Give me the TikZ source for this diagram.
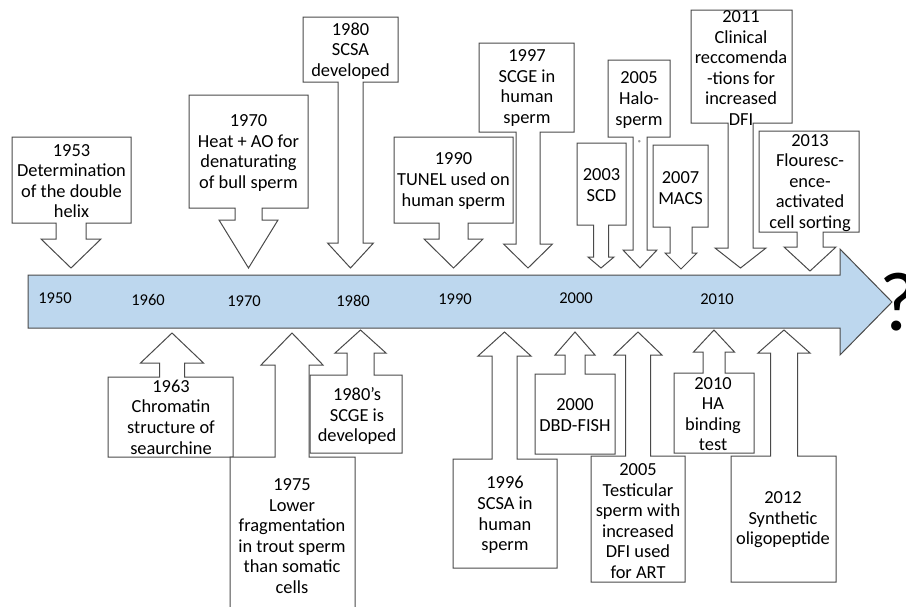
\documentclass[tikz,border=0pt]{standalone}
\usepackage{fontspec}
\setmainfont{Carlito}
\definecolor{arrowfill}{HTML}{BDD7EE}
\definecolor{lineclr}{HTML}{4A4A4A}
\tikzset{
  cstyle/.style={draw=lineclr, line width=1pt, fill=white, line join=miter},
  mainarrow/.style={draw=lineclr, line width=1pt, fill=arrowfill},
  txt/.style={align=center, inner sep=0pt, font=\fontsize{18.4}{20.6}\selectfont},
  yr/.style={inner sep=0pt, font=\fontsize{16.5}{18}\selectfont}
}
% x1,x2,yfar,ynear,tx,stemhalf,headhalf,heady,tipy
\newcommand\callout[9]{%
  \draw[cstyle] (#1,#3) -- (#2,#3) -- (#2,#4) -- ({#5+#6},#4) -- ({#5+#6},#8) -- ({#5+#7},#8) -- (#5,#9) -- ({#5-#7},#8) -- ({#5-#6},#8) -- ({#5-#6},#4) -- (#1,#4) -- cycle;}
\begin{document}
\begin{tikzpicture}[x=1pt,y=-1pt]
\useasboundingbox (0,0) rectangle (906,606);
\clip (0,0) rectangle (906,606);
% main timeline arrow
\draw[mainarrow] (28,275) -- (840,275) -- (840,249) -- (892,302) -- (840,355) -- (840,328) -- (28,328) -- cycle;
\node[yr] (y1950) at (55,298) {1950};
\node[yr] (y1960) at (148,300) {1960};
\node[yr] (y1970) at (244,301) {1970};
\node[yr] (y1980) at (353,301) {1980};
\node[yr] (y1990) at (455,299) {1990};
\node[yr] (y2000) at (576,298) {2000};
\node[yr] (y2010) at (717,299) {2010};
\node[inner sep=0pt, anchor=base west, font=\fontsize{84}{84}\selectfont] (q) at (879,330) {?};
% top callouts
\callout{12}{131}{137}{223}{71}{15}{30}{239}{268}
\node[txt] (c1953) at (71.5,181) {1953\\Determination\\of the double\\helix};
\callout{189}{308}{95}{208}{248.5}{13.5}{29.5}{220}{268}
\node[txt] (c1970) at (248.5,153) {1970\\Heat + AO for\\denaturating\\of bull sperm};
\callout{303}{398}{17}{82}{350.5}{12.5}{23}{243}{268}
\node[txt] (c1980) at (350.5,51) {1980\\SCSA\\developed};
\callout{394}{513}{137}{223}{453.5}{14.5}{29.5}{239}{268}
\node[txt] (c1990) at (453.5,181) {1990\\TUNEL used on\\human sperm};
\callout{479}{574}{43}{132}{528}{12}{24.5}{244}{268}
\node[txt] (c1997) at (527,88) {1997\\SCGE in\\human\\sperm};
\callout{577}{626}{143}{225}{601}{7.5}{13}{257}{268}
\node[txt] (c2003) at (601.5,185) {2003\\SCD};
\callout{608}{670}{60}{137}{640}{7}{17}{250}{268}
\node[txt] (c2005h) at (639,100) {2005\\Halo-\\sperm};
\node[inner sep=0pt, font=\fontsize{7}{8}\selectfont] (reg) at (640,143) {®};
\callout{653}{708}{145}{227}{681}{11}{16}{253}{269}
\node[txt] (c2007) at (680.5,188) {2007\\MACS};
\callout{691}{792}{10}{123}{740.5}{12.5}{25.5}{248}{268}
\node[txt] (c2011) at (741,68) {2011\\Clinical\\reccomenda\\-tions for\\increased\\DFI};
\callout{759}{859}{131}{232}{810}{13}{26}{247}{271}
\node[txt] (c2013) at (810,183) {2013\\Flouresc-\\ence-\\activated\\cell sorting};
% bottom callouts
\callout{108}{233}{457}{377}{172}{12.5}{31.5}{363}{333}
\node[txt] (c1963) at (171,417) {1963\\Chromatin\\structure of\\seaurchine};
\callout{230}{355}{640}{457}{292}{17}{31}{365}{333}
\node[txt] (c1975) at (292,536) {1975\\Lower\\fragmentation\\in trout sperm\\than somatic\\cells};
\callout{310}{402}{453}{375}{360.5}{13.5}{25.5}{353}{330}
\node[txt] (c1980s) at (357,416) {1980’s\\SCGE is\\developed};
\callout{453}{557}{568}{459}{504.5}{12.5}{26.5}{356}{332}
\node[txt] (c1996) at (505,515) {1996\\SCSA in\\human\\sperm};
\callout{535}{615}{454}{374}{575}{10}{20}{355}{332}
\node[txt] (c2000) at (575,415) {2000\\DBD-FISH};
\callout{591}{685}{582}{456}{638}{12.5}{24}{355}{332}
\node[txt] (c2005t) at (638,521) {2005\\Testicular\\sperm with\\increased\\DFI used\\for ART};
\callout{674}{754}{453}{373}{714}{11}{20.5}{352}{330}
\node[txt] (c2010) at (713,414) {2010\\HA\\binding\\test};
\callout{731}{836}{582}{456}{784}{13.5}{26}{353}{330}
\node[txt] (c2012) at (783,520) {2012\\Synthetic\\oligopeptide};
\end{tikzpicture}
\end{document}
